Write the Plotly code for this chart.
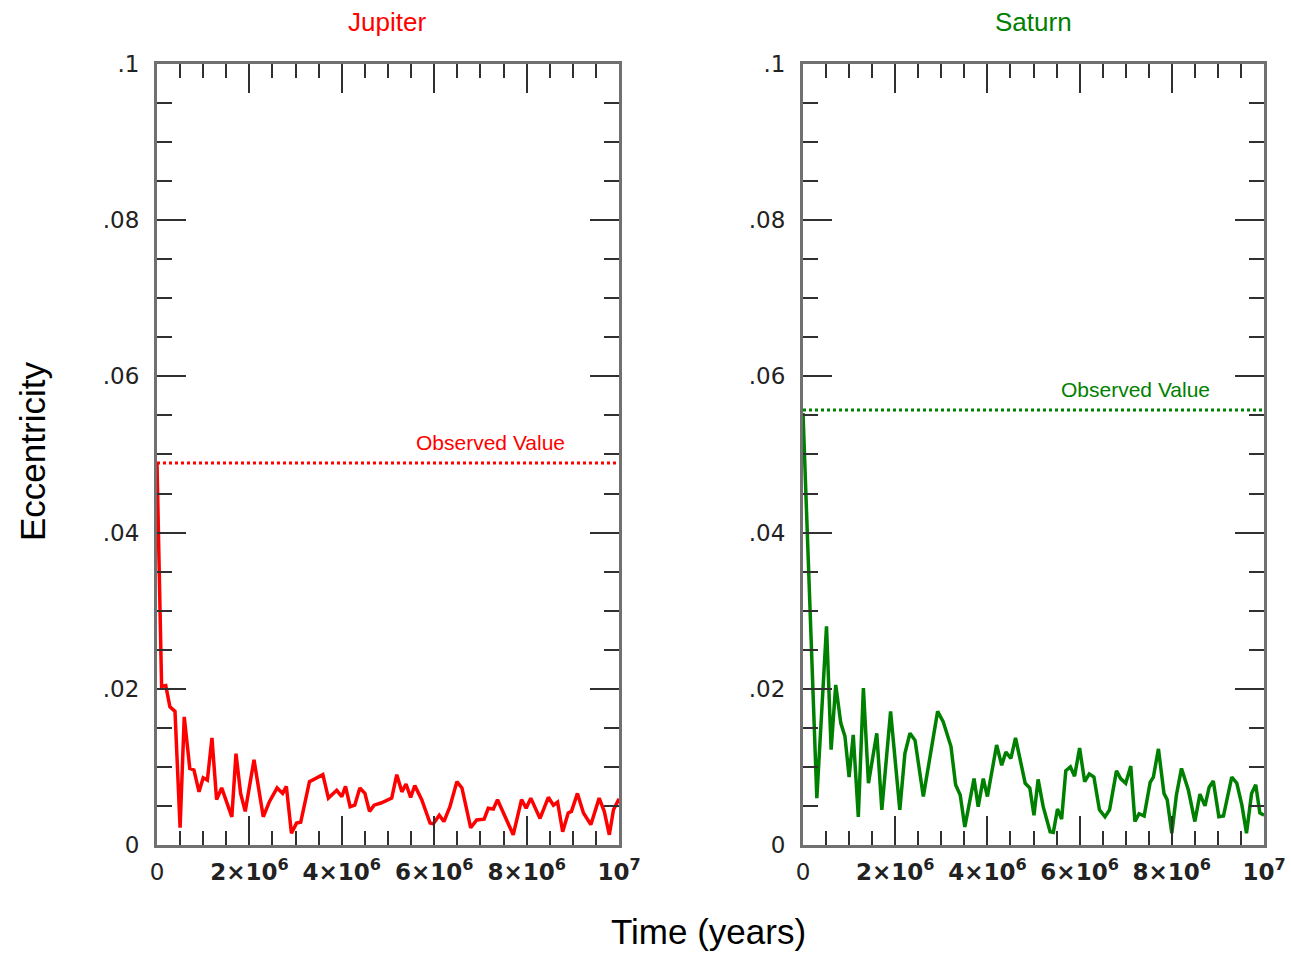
import plotly.graph_objects as go

# ---------------- data ----------------
jup_t_myr = [0, 0.10, 0.19, 0.28, 0.39, 0.50, 0.59, 0.71, 0.80, 0.91, 1.00, 1.09, 1.19, 1.29, 1.40, 1.62,
             1.71, 1.81, 1.91, 2.10, 2.30, 2.43, 2.60, 2.72, 2.80, 2.91, 3.02, 3.11, 3.30, 3.46, 3.59,
             3.71, 3.89, 4.00, 4.08, 4.18, 4.28, 4.39, 4.50, 4.60, 4.70, 4.86, 5.08, 5.19, 5.30, 5.39,
             5.49, 5.58, 5.73, 5.91, 5.98, 6.11, 6.21, 6.34, 6.49, 6.60, 6.79, 6.92, 7.08, 7.17, 7.28,
             7.37, 7.53, 7.71, 7.89, 7.99, 8.09, 8.29, 8.47, 8.58, 8.67, 8.78, 8.90, 8.97, 9.10, 9.23,
             9.39, 9.57, 9.68, 9.79, 9.88, 10.0]
jup_ecc = [0.0489, 0.0203, 0.0204, 0.0177, 0.0171, 0.0022, 0.0164, 0.0098, 0.0096, 0.0068, 0.0086, 0.0083,
           0.0137, 0.0058, 0.0073, 0.0036, 0.0117, 0.0066, 0.0043, 0.0109, 0.0036, 0.0055, 0.0073, 0.0066,
           0.0075, 0.0015, 0.0028, 0.0029, 0.0081, 0.0086, 0.0090, 0.0060, 0.0070, 0.0062, 0.0075, 0.0049,
           0.0051, 0.0073, 0.0066, 0.0043, 0.0051, 0.0054, 0.0060, 0.0090, 0.0068, 0.0078, 0.0061, 0.0076,
           0.0058, 0.0028, 0.0027, 0.0038, 0.0030, 0.0049, 0.0081, 0.0073, 0.0022, 0.0032, 0.0033, 0.0047,
           0.0046, 0.0058, 0.0038, 0.0013, 0.0058, 0.0047, 0.0060, 0.0034, 0.0061, 0.0051, 0.0055, 0.0017,
           0.0041, 0.0043, 0.0066, 0.0041, 0.0026, 0.0060, 0.0043, 0.0013, 0.0045, 0.0059]

sat_t_myr = [0, 0.30, 0.51, 0.61, 0.71, 0.82, 0.91, 1.00, 1.09, 1.20, 1.31, 1.42, 1.60, 1.71, 1.90, 2.10,
             2.21, 2.32, 2.43, 2.61, 2.92, 3.04, 3.21, 3.31, 3.41, 3.51, 3.71, 3.80, 3.91, 4.00, 4.20,
             4.31, 4.40, 4.51, 4.61, 4.82, 4.92, 5.01, 5.10, 5.21, 5.36, 5.43, 5.52, 5.61, 5.70, 5.80,
             5.89, 6.00, 6.11, 6.21, 6.31, 6.43, 6.55, 6.65, 6.80, 6.89, 7.00, 7.11, 7.20, 7.29, 7.40,
             7.53, 7.60, 7.71, 7.83, 7.90, 8.00, 8.10, 8.21, 8.36, 8.50, 8.61, 8.72, 8.81, 8.90, 9.02,
             9.12, 9.30, 9.41, 9.52, 9.62, 9.73, 9.82, 9.91, 10.0]
sat_ecc = [0.0553, 0.0060, 0.0280, 0.0122, 0.0205, 0.0156, 0.0139, 0.0087, 0.0141, 0.0036, 0.0201, 0.0079,
           0.0143, 0.0045, 0.0171, 0.0045, 0.0117, 0.0143, 0.0134, 0.0062, 0.0171, 0.0158, 0.0126, 0.0077,
           0.0064, 0.0023, 0.0085, 0.0049, 0.0085, 0.0062, 0.0128, 0.0102, 0.0119, 0.0111, 0.0137, 0.0079,
           0.0073, 0.0038, 0.0084, 0.0049, 0.0017, 0.0016, 0.0046, 0.0033, 0.0095, 0.0100, 0.0088, 0.0124,
           0.0081, 0.0091, 0.0087, 0.0045, 0.0036, 0.0045, 0.0095, 0.0085, 0.0079, 0.0101, 0.0030, 0.0040,
           0.0037, 0.0080, 0.0087, 0.0123, 0.0066, 0.0058, 0.0015, 0.0064, 0.0098, 0.0070, 0.0030, 0.0065,
           0.0050, 0.0074, 0.0082, 0.0036, 0.0037, 0.0087, 0.0079, 0.0051, 0.0015, 0.0066, 0.0077, 0.0041,
           0.0038]

jup_observed = 0.0489
sat_observed = 0.0557

x_tickvals = [0, 2e6, 4e6, 6e6, 8e6, 1e7]
x_ticktext = ["0", "<b>2×10<sup>6</sup></b>", "<b>4×10<sup>6</sup></b>", "<b>6×10<sup>6</sup></b>",
              "<b>8×10<sup>6</sup></b>", "<b>10<sup>7</sup></b>"]
y_tickvals = [0, 0.02, 0.04, 0.06, 0.08, 0.1]
y_ticktext = ["0", ".02", ".04", ".06", ".08", ".1"]

planets = ["Jupiter", "Saturn"]
colors = ["#ff0000", "#008000"]

# ---------------- figure ----------------
fig = go.Figure()
series = [(jup_t_myr, jup_ecc, jup_observed), (sat_t_myr, sat_ecc, sat_observed)]
for i, (tt, ee, obs) in enumerate(series):
    xa = "x" if i == 0 else "x2"
    ya = "y" if i == 0 else "y2"
    fig.add_trace(go.Scatter(x=[0, 1e7], y=[obs, obs], mode="lines",
                             line=dict(color=colors[i], width=3, dash="dot"), xaxis=xa, yaxis=ya,
                             showlegend=False, hoverinfo="skip"))
    fig.add_trace(go.Scatter(x=[t * 1e6 for t in tt], y=ee, mode="lines",
                             line=dict(color=colors[i], width=3.5), xaxis=xa, yaxis=ya,
                             showlegend=False, hoverinfo="skip"))

FONT = "Liberation Sans, Arial, sans-serif"
TICKFONT = "DejaVu Sans, sans-serif"
axis_common = dict(showline=True, linecolor="#707070", linewidth=3, mirror="allticks",
                   ticks="inside", tickcolor="#303030", tickwidth=2, showgrid=False, zeroline=False,
                   automargin=False, tickfont=dict(family=TICKFONT, size=23, color="#222"))

xdoms = [[0.1216, 0.4795], [0.622, 0.9791]]
ydom = [0.1143, 0.9329]

for i in range(2):
    sx = "" if i == 0 else "2"
    fig.layout["xaxis" + sx] = dict(axis_common, domain=xdoms[i], range=[0, 1e7],
                                    tickvals=x_tickvals, ticktext=x_ticktext, ticklen=29,
                                    minor=dict(dtick=5e5, tick0=0, ticklen=14, tickcolor="#303030",
                                               tickwidth=2, ticks="inside", showgrid=False),
                                    anchor="y" + sx, ticklabelstandoff=4)
    fig.layout["yaxis" + sx] = dict(axis_common, domain=ydom, range=[0, 0.1],
                                    tickvals=y_tickvals, ticktext=y_ticktext, ticklen=29,
                                    minor=dict(dtick=0.005, tick0=0, ticklen=15, tickcolor="#303030",
                                               tickwidth=2, ticks="inside", showgrid=False),
                                    anchor="x" + sx, ticklabelstandoff=10)

annotations = []
title_x_px = [387, 1033]
for i in range(2):
    sx = "" if i == 0 else "2"
    annotations.append(dict(text=planets[i], x=title_x_px[i] / 1291, y=(954 - 22) / 954,
                            xref="paper", yref="paper", xanchor="center", yanchor="middle",
                            showarrow=False, font=dict(family=FONT, size=26, color=colors[i])))
    annotations.append(dict(text="Observed Value", x=8.87e6, y=series[i][2],
                            xref="x" + sx, yref="y" + sx, xanchor="right", yanchor="bottom",
                            yshift=7, showarrow=False,
                            font=dict(family=FONT, size=21, color=colors[i])))
annotations.append(dict(text="Eccentricity", x=32 / 1291, y=(954 - 452) / 954, xref="paper", yref="paper",
                        xanchor="center", yanchor="middle",
                        textangle=-90, showarrow=False, font=dict(family=FONT, size=35, color="#000")))
annotations.append(dict(text="Time (years)", x=709 / 1291, y=(954 - 931) / 954, xref="paper", yref="paper",
                        xanchor="center", yanchor="middle",
                        showarrow=False, font=dict(family=FONT, size=35, color="#000")))

fig.update_layout(width=1291, height=954, margin=dict(l=0, r=0, t=0, b=0),
                  paper_bgcolor="white", plot_bgcolor="white", annotations=annotations)

fig.write_html("out.html")
